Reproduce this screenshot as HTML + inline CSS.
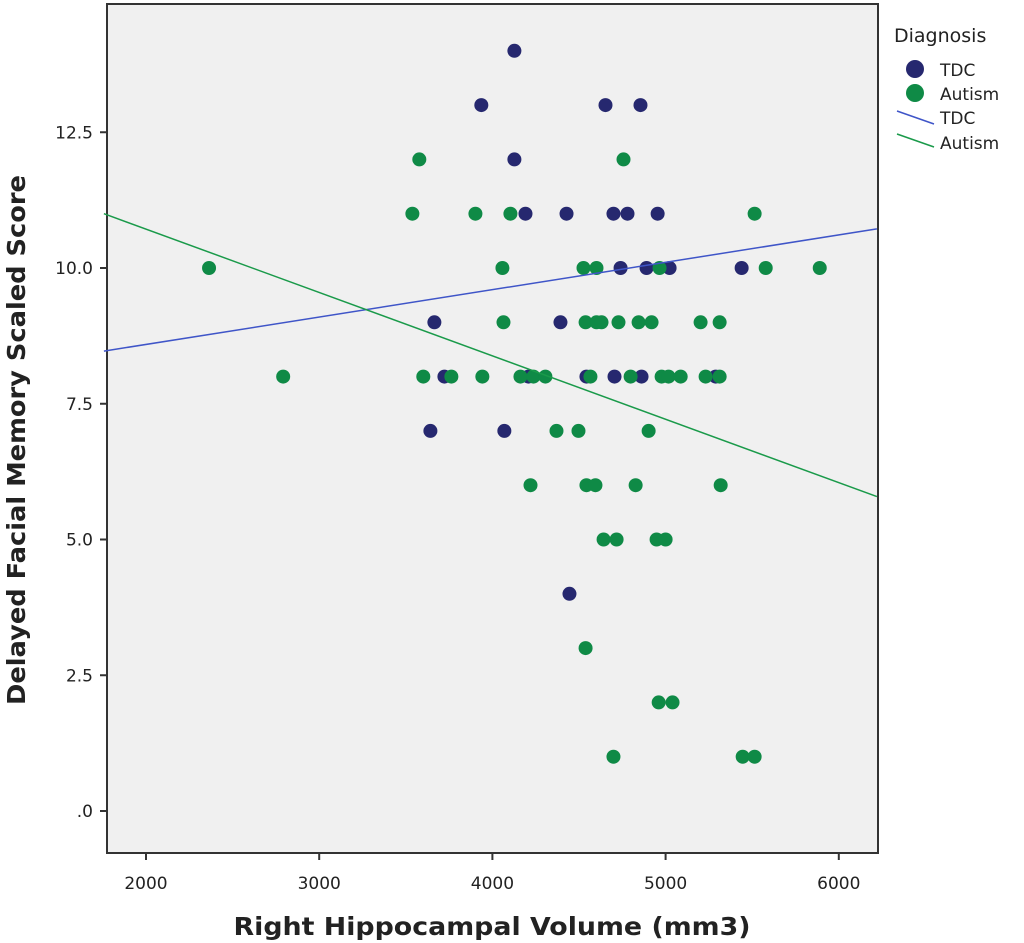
<!DOCTYPE html>
<html><head><meta charset="utf-8"><style>
body{margin:0;background:#fff;}
svg{display:block;font-family:"DejaVu Sans","Liberation Sans",sans-serif;}
</style></head><body>
<svg id="chart" width="1024" height="943" viewBox="0 0 1024 943">
<rect x="107" y="4" width="771" height="849" fill="#f0f0f0" stroke="#333" stroke-width="2"/>
<g id="marks"></g>
<g id="axes"></g>
<text x="0" y="0" transform="translate(25,440) rotate(-90)" text-anchor="middle" font-size="25" font-weight="bold" fill="#222" textLength="530" lengthAdjust="spacingAndGlyphs">Delayed Facial Memory Scaled Score</text>
<text x="492" y="935" text-anchor="middle" font-size="25" font-weight="bold" fill="#222" textLength="517" lengthAdjust="spacingAndGlyphs">Right Hippocampal Volume (mm3)</text>
<g>
<text x="894" y="42" font-size="19" fill="#222">Diagnosis</text>
<circle cx="915" cy="69" r="9" fill="#26286f"/>
<text x="940" y="76" font-size="17" fill="#222">TDC</text>
<circle cx="915" cy="93" r="9" fill="#0f8a46"/>
<text x="940" y="100" font-size="17" fill="#222">Autism</text>
<line x1="897" y1="111" x2="934" y2="124" stroke="#3f55c8" stroke-width="1.5"/>
<text x="940" y="124" font-size="17" fill="#222">TDC</text>
<line x1="897" y1="134" x2="934" y2="147" stroke="#1a9a4a" stroke-width="1.5"/>
<text x="940" y="149" font-size="17" fill="#222">Autism</text>
</g>
</svg>
<script>
const xTicks=[2000,3000,4000,5000,6000];
const yTicks=[0,2.5,5,7.5,10,12.5];
const yTickLabels=[".0","2.5","5.0","7.5","10.0","12.5"];
const tdcX=[4127,3936,4653,4855,4127,4191,4428,4699,4780,4954,4740,4890,5023,5439,3665,4393,3723,4208,4543,4705,4861,5289,3642,4069,4445];
const tdcY=[14,13,13,13,12,11,11,11,11,11,10,10,10,10,9,9,8,8,8,8,8,8,7,7,4];
const autX=[3578,4757,3538,3902,4104,5514,2364,4058,4526,4601,4965,5578,5890,4064,4538,4601,4630,4728,4844,4919,5202,5312,2792,3601,3763,3942,4162,4237,4306,4566,4798,4977,5017,5087,5231,5312,4370,4497,4902,4220,4543,4595,4827,5318,4642,4717,4948,5000,4538,4960,5040,4699,5445,5514];
const autY=[12,12,11,11,11,11,10,10,10,10,10,10,10,9,9,9,9,9,9,9,9,9,8,8,8,8,8,8,8,8,8,8,8,8,8,8,7,7,7,6,6,6,6,6,5,5,5,5,3,2,2,1,1,1];
const tdcFit=[1757,8.47,6220,10.72];
const autFit=[1757,11.0,6220,5.79];
const NS="http://www.w3.org/2000/svg";
function sx(v){return 146+(v-2000)*0.1732;}
function sy(v){return 811-v*54.3;}
function mk(t,a,p){const e=document.createElementNS(NS,t);for(const k in a)e.setAttribute(k,a[k]);p.appendChild(e);return e;}
const marks=document.getElementById('marks'),axes=document.getElementById('axes');
function fit(f,c,n){const l=mk('line',{x1:sx(f[0]),y1:sy(f[1]),x2:sx(f[2]),y2:sy(f[3]),stroke:c,'stroke-width':1.5},marks);

}
function pts(X,Y,c,n){for(let i=0;i<X.length;i++){const e=mk('circle',{cx:sx(X[i]),cy:sy(Y[i]),r:7,fill:c},marks);

}}
pts(tdcX,tdcY,'#26286f','tdc-point');
pts(autX,autY,'#0f8a46','autism-point');
fit(tdcFit,'#3f55c8','tdc-fit-line');
fit(autFit,'#1a9a4a','autism-fit-line');
xTicks.forEach(v=>{const t=mk('line',{x1:sx(v),y1:853,x2:sx(v),y2:860,stroke:'#333','stroke-width':2},axes);


const l=mk('text',{x:sx(v),y:889,'text-anchor':'middle','font-size':17,fill:'#222'},axes);l.textContent=v;

});
yTicks.forEach((v,i)=>{const t=mk('line',{x1:100,y1:sy(v),x2:107,y2:sy(v),stroke:'#333','stroke-width':2},axes);


const l=mk('text',{x:93,y:sy(v)+6,'text-anchor':'end','font-size':17,fill:'#222'},axes);l.textContent=yTickLabels[i];

});
</script>
</body></html>
